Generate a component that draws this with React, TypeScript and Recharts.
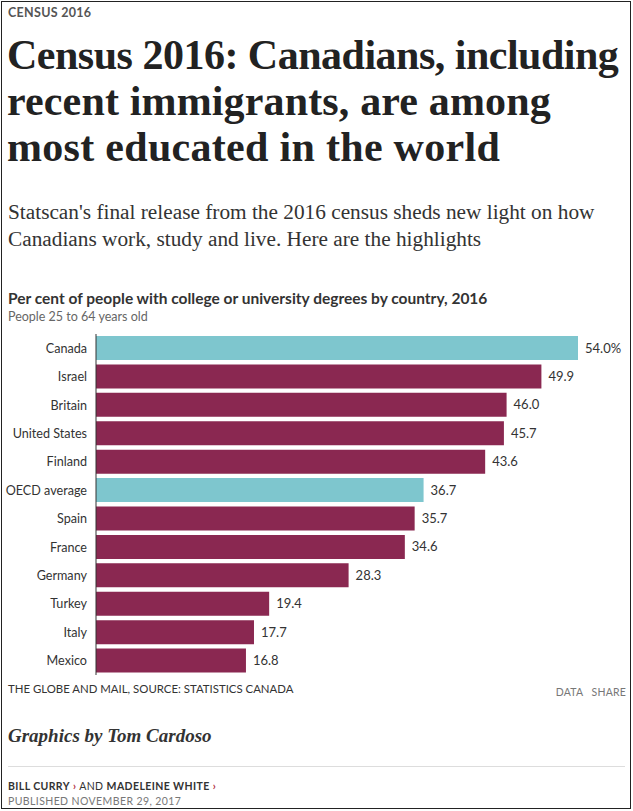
import React from "react";
import { BarChart, Bar, XAxis, YAxis, Cell, LabelList } from "recharts";

const countries = ["Canada", "Israel", "Britain", "United States", "Finland", "OECD average", "Spain", "France", "Germany", "Turkey", "Italy", "Mexico"];
const values = [54.0, 49.9, 46.0, 45.7, 43.6, 36.7, 35.7, 34.6, 28.3, 19.4, 17.7, 16.8];
const highlighted = ["Canada", "OECD average"];

const data = countries.map((c, i) => ({ country: c, value: values[i] }));

const TEAL = "#7ec6ce";
const MAROON = "#8a2851";
const SANS = "Lato, 'Open Sans', sans-serif";
const SERIF = "'Liberation Serif', 'DejaVu Serif', serif";

const abs = (top: number, left: number, extra: React.CSSProperties = {}): React.CSSProperties => ({
  position: "absolute",
  top,
  left,
  whiteSpace: "nowrap",
  margin: 0,
  ...extra,
});

const ValueLabel = (props: any) => {
  const { x, y, width, height, value, index } = props;
  const txt = index === 0 ? `${Number(value).toFixed(1)}%` : Number(value).toFixed(1);
  return (
    <text x={x + width + 7} y={y + height / 2} dy={4.5} fontSize={13} fill="#333" fontFamily={SANS}>
      {txt}
    </text>
  );
};

const CountryTick = (props: any) => {
  const { x, y, payload } = props;
  return (
    <text x={x} y={y} dy={4.5} textAnchor="end" fontSize={12.6} fill="#333" fontFamily={SANS}>
      {payload.value}
    </text>
  );
};

export default function App() {
  return (
    <div style={{ position: "absolute", left: 0, top: 0, width: 633, height: 811, background: "#fff", overflow: "hidden" }}>
      <div style={{ position: "absolute", left: 1, top: 1, width: 628, height: 806, border: "1.5px solid #222" }} />
      <div style={abs(5, 8, { fontFamily: SANS, fontWeight: 700, fontSize: 12.5, color: "#555", letterSpacing: 0.3 })}>CENSUS 2016</div>
      <div style={abs(31.5, 7, { fontFamily: SERIF, fontWeight: 700, fontSize: 42, color: "#222", lineHeight: "46px" })}>
        <div style={{ letterSpacing: -0.5 }}>Census 2016: Canadians, including</div>
        <div style={{ letterSpacing: 0.15 }}>recent immigrants, are among</div>
        <div style={{ letterSpacing: 0.3 }}>most educated in the world</div>
      </div>
      <div style={abs(199, 8, { fontFamily: SERIF, fontSize: 21.3, color: "#333", lineHeight: "27px" })}>
        Statscan's final release from the 2016 census sheds new light on how
        <br />
        Canadians work, study and live. Here are the highlights
      </div>
      <div style={abs(289, 8, { fontFamily: SANS, fontWeight: 700, fontSize: 15.5, color: "#333" })}>
        Per cent of people with college or university degrees by country, 2016
      </div>
      <div style={abs(309, 8, { fontFamily: SANS, fontSize: 12.5, color: "#666" })}>People 25 to 64 years old</div>

      <div style={abs(334, 0)}>
        <BarChart
          width={633}
          height={341}
          data={data}
          layout="vertical"
          margin={{ top: 0, right: 55, bottom: 0, left: 0 }}
          barSize={24}
        >
          <XAxis type="number" domain={[0, 54]} hide />
          <YAxis
            type="category"
            dataKey="country"
            width={96}
            tickLine={false}
            tickSize={0}
            axisLine={{ stroke: "#333", strokeWidth: 1 }}
            tick={<CountryTick />}
            tickMargin={9}
            interval={0}
          />
          <Bar dataKey="value" isAnimationActive={false}>
            {data.map((d) => (
              <Cell key={d.country} fill={highlighted.includes(d.country) ? TEAL : MAROON} />
            ))}
            <LabelList dataKey="value" content={<ValueLabel />} />
          </Bar>
        </BarChart>
      </div>

      <div style={abs(682, 8, { fontFamily: SANS, fontSize: 11.4, color: "#333" })}>THE GLOBE AND MAIL, SOURCE: STATISTICS CANADA</div>
      <div style={{ position: "absolute", top: 686, right: 7, whiteSpace: "nowrap", fontFamily: SANS, fontSize: 10.5, color: "#777", letterSpacing: 0.2 }}>DATA&nbsp;&nbsp;&nbsp;SHARE</div>

      <div style={abs(725, 8, { fontFamily: SERIF, fontStyle: "italic", fontWeight: 700, fontSize: 19, color: "#333" })}>Graphics by Tom Cardoso</div>
      <div style={{ position: "absolute", left: 8, top: 766, width: 617, height: 1, background: "#ddd" }} />
      <div style={abs(780, 8, { fontFamily: SANS, fontSize: 10.5, color: "#333", letterSpacing: 0.4 })}>
        <b>BILL CURRY</b> <span style={{ color: "#b0283a", fontWeight: 700 }}>›</span> AND <b>MADELEINE WHITE</b>{" "}
        <span style={{ color: "#b0283a", fontWeight: 700 }}>›</span>
      </div>
      <div style={abs(795, 8, { fontFamily: SANS, fontSize: 10.5, color: "#777", letterSpacing: 0.4 })}>PUBLISHED NOVEMBER 29, 2017</div>
    </div>
  );
}
